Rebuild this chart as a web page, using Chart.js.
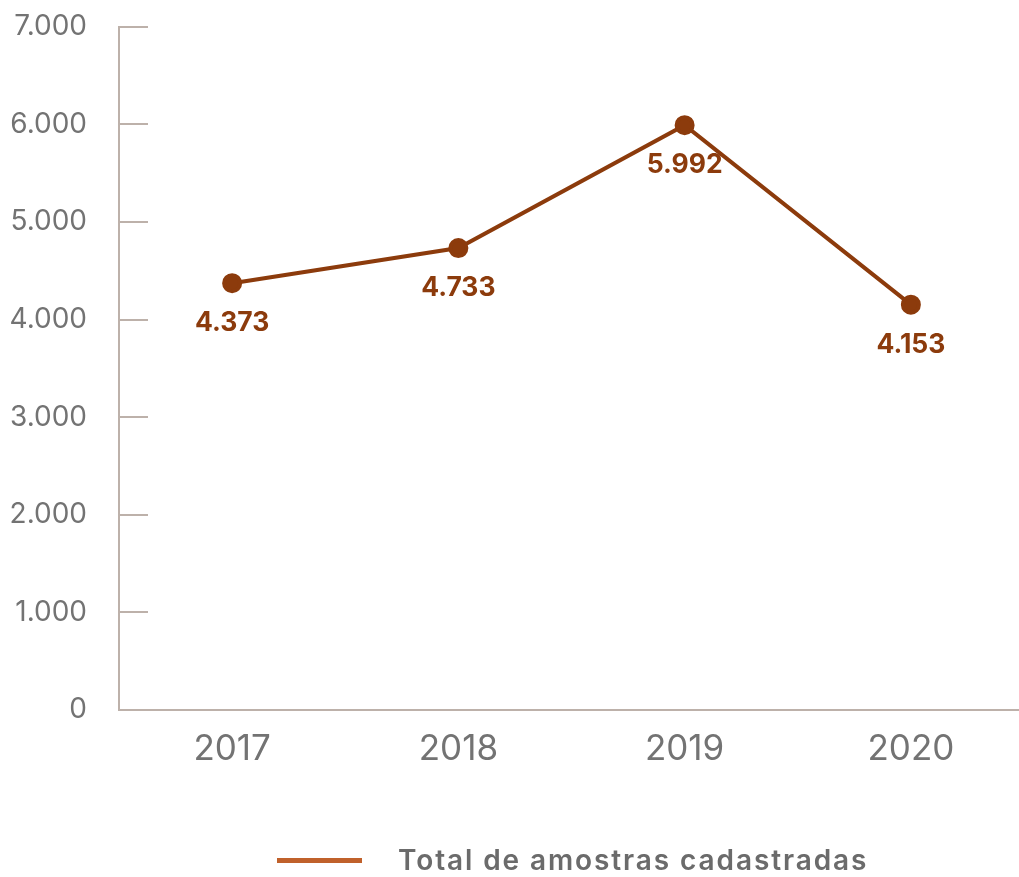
<!DOCTYPE html>
<html>
<head>
<meta charset="utf-8">
<script src="https://cdn.jsdelivr.net/npm/chart.js@4/dist/chart.umd.min.js"></script>
<style>
  html, body { margin: 0; padding: 0; background: #fff; overflow: hidden; }
  #wrap { position: relative; width: 1019px; height: 877px; overflow: hidden; }
  #box { position: absolute; left: 0; top: -14px; width: 1036px; height: 891px; }
  #legend { position: absolute; left: 277px; top: 843px; display: flex; align-items: center;
            font: 600 28px Inter, sans-serif; color: #6b6b6b; letter-spacing: 1.9px; }
  #legend span { display: inline-block; width: 85px; height: 5px; background: #c0612b; margin-right: 36px; }
</style>
</head>
<body>
<div id="wrap">
  <div id="box"><canvas id="chart"></canvas></div>
  <div id="legend"><span></span>Total de amostras cadastradas</div>
</div>
<script>
// data
let years = ["2017", "2018", "2019", "2020"]
let samples = [4373, 4733, 5992, 4153]
let seriesName = "Total de amostras cadastradas"

let axisColor = "#bdb1aa"
let lineColor = "#8c3b0c"

// 4373 -> "4.373"
function fmt(v){
    return String(v).replace(/\B(?=(\d{3})+(?!\d))/g, ".")
}

// short ticks drawn inside the plot, from the y axis
let innerTicks = {
    id: 'innerTicks',
    beforeDatasetsDraw(chart){
        const ctx = chart.ctx
        const y = chart.scales.y
        const left = chart.chartArea.left
        ctx.save()
        ctx.strokeStyle = axisColor
        ctx.lineWidth = 2
        y.ticks.forEach(t => {
            if(t.value == 0) return
            const py = Math.round(y.getPixelForValue(t.value))
            ctx.beginPath()
            ctx.moveTo(left, py)
            ctx.lineTo(left + 29, py)
            ctx.stroke()
        })
        ctx.restore()
    }
}

// value labels under each point
let valueLabels = {
    id: 'valueLabels',
    afterDatasetsDraw(chart){
        const ctx = chart.ctx
        const meta = chart.getDatasetMeta(0)
        ctx.save()
        ctx.font = "bold 26.5px Inter, sans-serif"
        ctx.fillStyle = lineColor
        ctx.textAlign = "center"
        ctx.textBaseline = "middle"
        meta.data.forEach((pt, i) => {
            ctx.fillText(fmt(samples[i]), pt.x, pt.y + 40)
        })
        ctx.restore()
    }
}

new Chart(document.getElementById("chart"), {
    type: 'line',
    data: {
        labels: years,
        datasets: [{
            label: seriesName,
            data: samples,
            borderColor: lineColor,
            backgroundColor: lineColor,
            borderWidth: 4,
            pointRadius: 8,
            pointHoverRadius: 8,
            tension: 0
        }]
    },
    options: {
        responsive: true,
        maintainAspectRatio: false,
        animation: false,
        layout: { padding: { top: 5, right: 0, bottom: 97, left: 0 } },
        plugins: {
            legend: { display: false },
            tooltip: { enabled: false }
        },
        scales: {
            x: {
                offset: true,
                grid: { display: false },
                border: { display: true, color: axisColor, width: 2 },
                ticks: { color: "#737373", font: { family: "Inter", size: 35 }, padding: 10 }
            },
            y: {
                min: 0,
                max: 7000,
                grid: { display: false },
                border: { display: true, color: axisColor, width: 2 },
                afterFit: s => { s.width = 119 },
                ticks: {
                    stepSize: 1000,
                    color: "#737373",
                    font: { family: "Inter", size: 28 },
                    padding: 24,
                    callback: v => fmt(v)
                }
            }
        }
    },
    plugins: [innerTicks, valueLabels]
});
</script>
</body>
</html>
